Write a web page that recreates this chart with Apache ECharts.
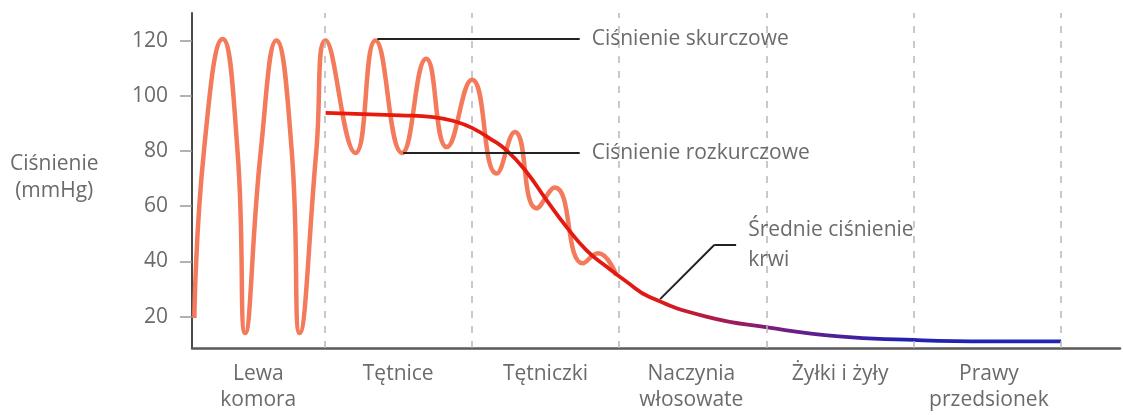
<!DOCTYPE html>
<html>
<head>
<meta charset="utf-8">
<script src="https://cdn.jsdelivr.net/npm/echarts@6/dist/echarts.min.js"></script>
<style>
  html, body { margin: 0; padding: 0; background: #fff; }
  #chart { width: 1123px; height: 415px; }
</style>
</head>
<body>
<div id="chart"></div>
<script>
// segments along the circulation (x in segment units, boundaries at x.9)
var segmentNames   = ['Lewa\nkomora', 'Tętnice', 'Tętniczki', 'Naczynia\nwłosowate', 'Żyłki i żyły', 'Prawy\nprzedsionek'];
var segmentCenters = [0.45, 1.40, 2.40, 3.39, 4.40, 5.41];
var segmentBounds  = [0.9, 1.9, 2.9, 3.9, 4.9, 5.9];
var yTicks = [20, 40, 60, 80, 100, 120];

// pressure wave: left ventricle (extremes + flank points at 80) then arteries (extremes)
var waveX = [0.016, 0.081, 0.208, 0.309, 0.361, 0.467, 0.573, 0.677, 0.731, 0.844, 0.907,
             1.110, 1.245, 1.426, 1.590, 1.730, 1.901, 2.068, 2.192, 2.339, 2.463, 2.654, 2.756, 2.880];
var waveY = [19.5, 80, 120.6, 80, 14, 80, 120, 80, 14, 80, 120,
             79.3, 120, 79.3, 113.4, 81.4, 105.8, 71.8, 86.9, 59.2, 66.8, 39.3, 42.9, 35];

// mean arterial pressure
var meanX = [0.907, 1.414, 1.637, 1.798, 1.910, 2.023, 2.136, 2.271, 2.407, 2.542, 2.677, 2.813, 2.948, 3.106, 3.491, 3.917, 4.391, 4.844, 5.406, 5.900];
var meanY = [93.8, 92.9, 92.3, 90.5, 88.1, 84.5, 80.2, 72.4, 62.2, 52.5, 44.1, 38.1, 32.7, 27.1, 20, 16, 12.8, 11.6, 11.0, 11.0];

// annotation leaders [x, y] in data units
var leaderSys  = [[1.258, 120.7], [2.632, 120.7]];
var leaderDia  = [[1.434, 79.3], [2.632, 79.3]];
var leaderMean = [[3.178, 26.3], [3.545, 45.9], [3.694, 45.9]];
var noteSys  = 'Ciśnienie skurczowe';
var noteDia  = 'Ciśnienie rozkurczowe';
var noteMean = 'Średnie ciśnienie\nkrwi';

function pairs(xs, ys) {
  return xs.map(function (x, i) { return [x, ys[i]]; });
}

var textColor = '#6b6b6b';
var font = "'Open Sans', sans-serif";

var chart = echarts.init(document.getElementById('chart'));

//------------ colour stops for mean line (red -> purple -> blue)
var x0 = meanX[0], x1 = meanX[meanX.length - 1];
function stop(u) { return (u - x0) / (x1 - x0); }

var leaderStyle = { color: '#222', width: 2, type: 'solid' };
var noteLabel = {
  show: true, position: 'end', distance: 12,
  color: textColor, fontSize: 21, fontFamily: font, lineHeight: 30
};

var option = {
  animation: false,
  grid: { left: 192, right: 3, top: 13, bottom: 67 },
  xAxis: {
    type: 'value',
    min: 0,
    max: 6.3,
    axisLine: { lineStyle: { color: '#5a5a5a', width: 2.5 } },
    axisTick: { show: false },
    splitLine: { show: false },
    axisLabel: {
      customValues: segmentCenters,
      margin: 13,
      color: textColor,
      fontSize: 21,
      fontFamily: font,
      lineHeight: 26,
      formatter: function (v) {
        for (var i = 0; i < segmentCenters.length; i++) {
          if (Math.abs(segmentCenters[i] - v) < 1e-6) return segmentNames[i];
        }
        return '';
      }
    }
  },
  yAxis: {
    type: 'value',
    min: 8.6,
    max: 130,
    axisLine: { show: true, lineStyle: { color: '#4a4a4a', width: 2 } },
    axisTick: { show: true, length: 12, customValues: yTicks, lineStyle: { color: '#999', width: 1.5 } },
    splitLine: { show: false },
    axisLabel: { customValues: yTicks, margin: 24, color: textColor, fontSize: 21, fontFamily: font }
  },
  graphic: [{
    type: 'text',
    left: 10,
    top: 151,
    style: {
      text: 'Ciśnienie\n(mmHg)',
      fill: textColor,
      font: '21px ' + font,
      lineHeight: 27,
      textAlign: 'center'
    }
  }],
  series: [
    {
      name: 'grid',
      type: 'line',
      data: [],
      z: 1,
      markLine: {
        silent: true,
        symbol: 'none',
        label: { show: false },
        lineStyle: { color: '#b8b8b8', width: 1.5, type: [7, 8] },
        data: segmentBounds.map(function (b) { return { xAxis: b }; })
      }
    },
    {
      name: 'Ciśnienie skurczowe',
      type: 'line',
      z: 3,
      data: pairs(waveX, waveY),
      smooth: 0.5,
      showSymbol: false,
      lineStyle: { color: '#f47a5c', width: 4.5 }
    },
    {
      name: 'Średnie ciśnienie krwi',
      type: 'line',
      z: 4,
      data: pairs(meanX, meanY),
      smooth: 0.5,
      showSymbol: false,
      lineStyle: {
        width: 3.8,
        color: new echarts.graphic.LinearGradient(0, 0, 1, 0, [
          { offset: 0, color: '#ea1a0c' },
          { offset: stop(3.15), color: '#e01a14' },
          { offset: stop(3.95), color: '#7a1c80' },
          { offset: stop(4.8), color: '#2222b0' },
          { offset: 1, color: '#2424b4' }
        ])
      }
    },
    {
      name: 'notes',
      type: 'line',
      data: [],
      z: 5,
      markLine: {
        silent: true,
        symbol: 'none',
        lineStyle: leaderStyle,
        data: [
          [{ coord: leaderSys[0] }, { coord: leaderSys[1], label: Object.assign({ formatter: noteSys }, noteLabel) }],
          [{ coord: leaderDia[0] }, { coord: leaderDia[1], label: Object.assign({ formatter: noteDia }, noteLabel) }],
          [{ coord: leaderMean[0], label: { show: false } }, { coord: leaderMean[1] }],
          [{ coord: leaderMean[1] }, { coord: leaderMean[2], label: Object.assign({ formatter: noteMean }, noteLabel) }]
        ]
      }
    }
  ]
};

chart.setOption(option);
</script>
</body>
</html>
